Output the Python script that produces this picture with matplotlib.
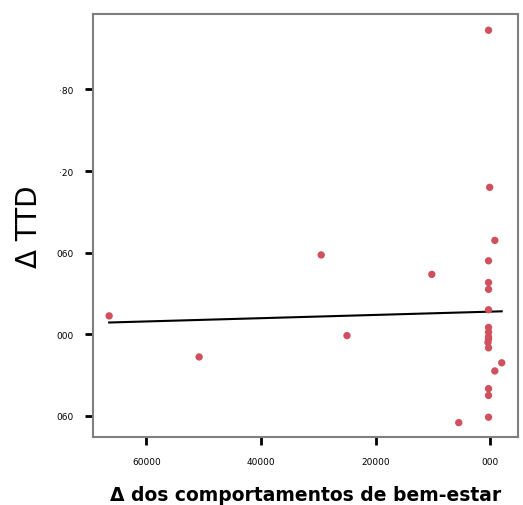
import numpy as np
import matplotlib.pyplot as plt

# values (x in the chart's own units)
x_vals = [-665, -508, -295, -250, -102, -55, 20, 8, 8,
          -3, -1, -3, -3, -3, -3, -3, -3, -3, -4, -3, -3, -3, -3, -3]
y_vals = [0.135, -0.167, 0.583, -0.01, 0.44, -0.65, -0.21, 0.69, -0.27,
          2.235, 1.08, 0.54, 0.38, 0.33, 0.18, 0.05, 0.015, -0.02, -0.06,
          -0.10, -0.40, -0.45, -0.61, -0.035]

# fitted line
fit_intercept = 0.166
fit_slope = 0.00012

x_ticks = [-600, -400, -200, 0]
x_tick_labels = ["60000", "40000", "20000", "000"]
y_ticks = [-0.6, 0.0, 0.6, 1.2, 1.8]
y_tick_labels = ["060", "000", "060", "·20", "·80"]

fig = plt.figure(figsize=(5.23, 5.06), dpi=100)
ax = fig.add_axes([0.178, 0.134, 0.812, 0.836])

ax.scatter(x_vals, y_vals, s=28, color="#d0505e", edgecolors="none", zorder=3)

xs = np.array([min(x_vals), max(x_vals)])
ax.plot(xs, fit_intercept + fit_slope * xs, color="black", linewidth=1.5, zorder=2)

ax.set_xlim(-693, 48)
ax.set_ylim(-0.757, 2.353)
ax.set_xticks(x_ticks)
ax.set_xticklabels(x_tick_labels)
ax.set_yticks(y_ticks)
ax.set_yticklabels(y_tick_labels)
ax.tick_params(direction="out", length=6, width=2, color="black",
               labelsize=6.5, pad=8)

for s in ax.spines.values():
    s.set_color("#7f7f7f")
    s.set_linewidth(1.5)

ax.set_ylabel("Δ TTD", fontsize=20, labelpad=10)
ax.set_xlabel("Δ dos comportamentos de bem-estar", fontsize=13.5,
              fontweight="bold", labelpad=14)

fig.savefig("out.png", dpi=100)
